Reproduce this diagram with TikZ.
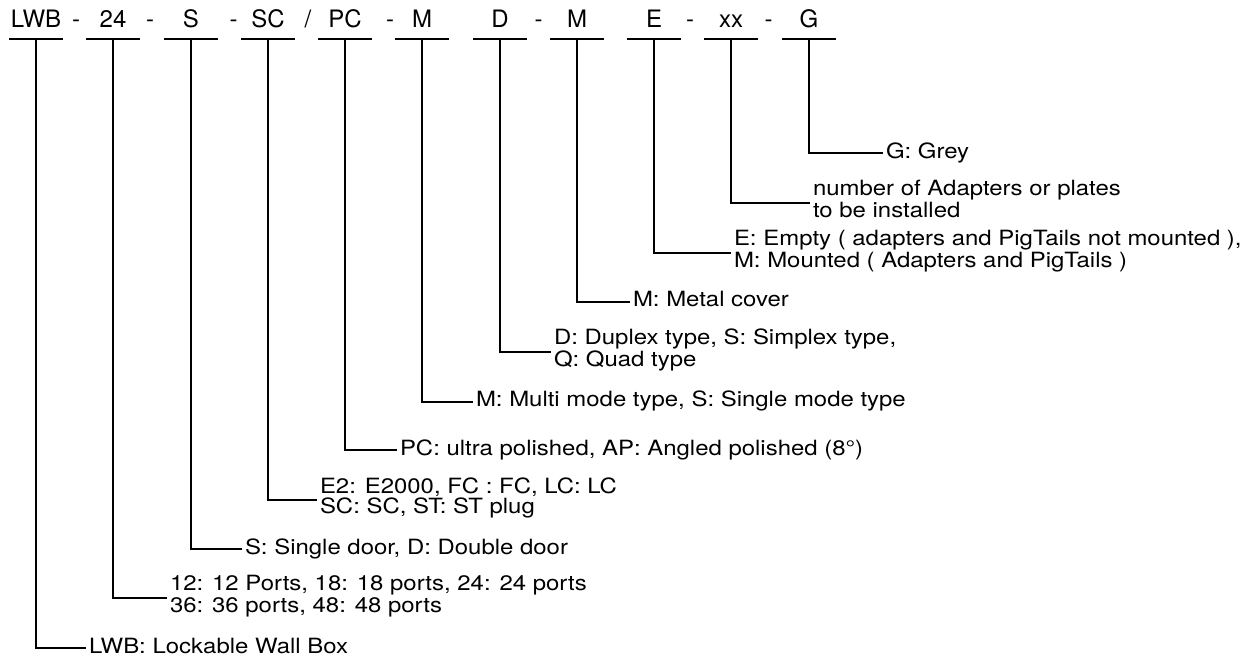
\documentclass[tikz,border=0pt]{standalone}
\usepackage{fontspec}
\setmainfont{TeX Gyre Heros}
\newfontfamily\descfont[FakeStretch=1.14]{TeX Gyre Heros}
\usetikzlibrary{positioning}

\begin{document}
\begin{tikzpicture}[x=0.5pt,y=-0.5pt,line width=1pt,
  code/.style={font=\fontsize{12}{14}\selectfont,anchor=base,minimum width=26pt,
               inner sep=0pt,text height=8.6pt,text depth=5pt},
  sep/.style={font=\fontsize{12}{14}\selectfont,anchor=base,inner sep=0pt},
  desc/.style={font=\descfont\fontsize{10.5}{12}\selectfont,anchor=west,inner xsep=1pt,
               inner ysep=0pt,text height=7.5pt,text depth=2.5pt},
  desctwo/.style={font=\descfont\fontsize{10.5}{8.75}\selectfont,anchor=west,align=left,
                  inner xsep=1pt,inner ysep=0pt,
                  execute at end node={\rule[-4.3pt]{0pt}{0pt}}}]
\useasboundingbox (0,0) rectangle (1256,660);

% code fields on top
\node[code] (lwb)    at (36,27.7)  {LWB};
\node[code] (ports)  at (113,27.7) {24};
\node[code] (door)   at (191,27.7) {S};
\node[code] (conn)   at (268,27.7) {SC};
\node[code] (polish) at (345,27.7) {PC};
\node[code] (mode)   at (422,27.7) {M};
\node[code] (type)   at (500,27.7) {D};
\node[code] (cover)  at (577,27.7) {M};
\node[code] (mount)  at (654,27.7) {E};
\node[code] (count)  at (731,27.7) {xx};
\node[code] (colour) at (809,27.7) {G};
\foreach \n in {lwb,ports,door,conn,polish,mode,type,cover,mount,count,colour}
  \draw (\n.south west) -- (\n.south east);

% separators
\node[sep] (s1) at (76,27.7)    {-};
\node[sep] (s2) at (150,27.7)   {-};
\node[sep] (s3) at (233.5,27.7) {-};
\node[sep] (s4) at (308,27.7)   {/};
\node[sep] (s5) at (390,27.7)   {-};
\node[sep] (s6) at (538.5,27.7) {-};
\node[sep] (s7) at (690,27.7)   {-};
\node[sep] (s8) at (768.5,27.7) {-};

% descriptions
\node[desc] (colourtxt) at (883,153.3) {G: Grey};
\node[desctwo] (counttxt) at (810,203) {number of Adapters or plates\\to be installed};
\node[desctwo] (mounttxt) at (731,252.7)
  {E: Empty ( adapters and PigTails not mounted ),\\M: Mounted ( Adapters and PigTails )};
\node[desc] (covertxt) at (630,301.7) {M: Metal cover};
\node[desctwo] (typetxt) at (551,351.7) {D: Duplex type, S: Simplex type,\\Q: Quad type};
\node[desc] (modetxt) at (473,401.7) {M: Multi mode type, S: Single mode type};
\node[desc] (polishtxt) at (397,450) {PC: ultra polished, AP: Angled polished (8°)};
\node[desctwo] (conntxt) at (317,500) {E2: E2000, FC : FC, LC: LC\\SC: SC, ST: ST plug};
\node[desc] (doortxt) at (242,549) {S: Single door, D: Double door};
\node[desctwo] (portstxt) at (167,598)
  {12: 12 Ports, 18: 18 ports, 24: 24 ports\\36: 36 ports, 48: 48 ports};
\node[desc] (lwbtxt) at (86,648) {LWB: Lockable Wall Box};

% connectors
\foreach \n in {lwb,ports,door,conn,polish,mode,type,cover,mount,count,colour}
  \draw (\n.south) |- (\n txt.west);
\end{tikzpicture}
\end{document}
